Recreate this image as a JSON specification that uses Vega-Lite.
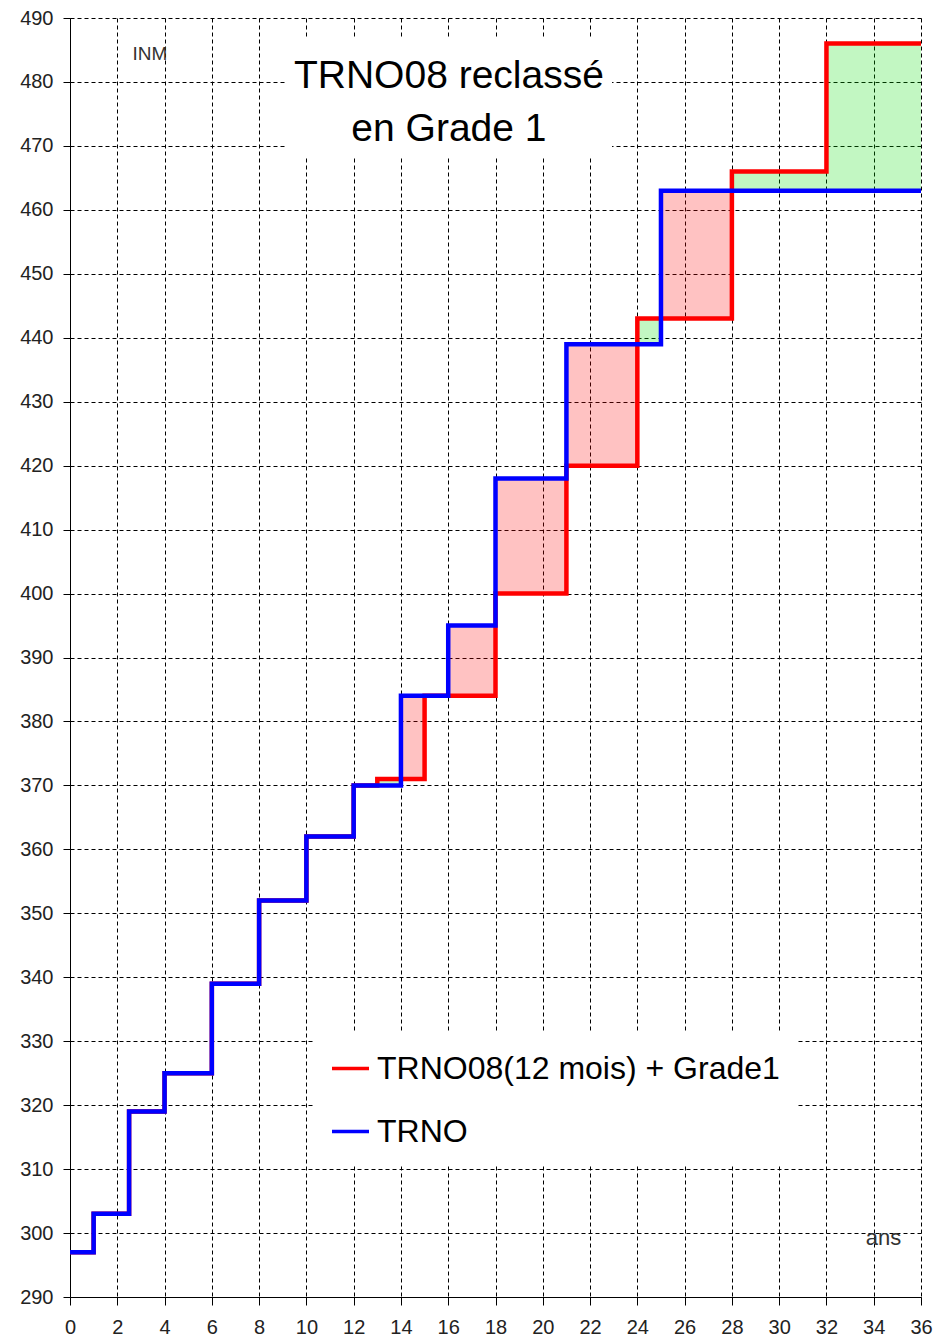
{
  "$schema": "https://vega.github.io/schema/vega-lite/v6.json",
  "width": 851,
  "height": 1279,
  "autosize": {"type": "none"},
  "padding": {"left": 70, "top": 18, "right": 14, "bottom": 41},
  "background": "white",
  "config": {
    "view": {"stroke": null},
    "axis": {
      "domainColor": "black",
      "domainWidth": 1,
      "tickColor": "black",
      "tickWidth": 1,
      "gridColor": "black",
      "gridDash": [4, 3],
      "gridOpacity": 1,
      "gridWidth": 1,
      "labelFont": "Liberation Sans",
      "labelFontSize": 20,
      "labelColor": "#222222",
      "title": null
    }
  },
  "datasets": {
    "steps": [
      {"serie": "TRNO", "x": 0, "y": 297},
      {"serie": "TRNO", "x": 1, "y": 303},
      {"serie": "TRNO", "x": 2.5, "y": 319},
      {"serie": "TRNO", "x": 4, "y": 325},
      {"serie": "TRNO", "x": 6, "y": 339},
      {"serie": "TRNO", "x": 8, "y": 352},
      {"serie": "TRNO", "x": 10, "y": 362},
      {"serie": "TRNO", "x": 12, "y": 370},
      {"serie": "TRNO", "x": 14, "y": 384},
      {"serie": "TRNO", "x": 16, "y": 395},
      {"serie": "TRNO", "x": 18, "y": 418},
      {"serie": "TRNO", "x": 21, "y": 439},
      {"serie": "TRNO", "x": 25, "y": 463},
      {"serie": "TRNO", "x": 36, "y": 463},
      {"serie": "TRNO08(12 mois) + Grade1", "x": 0, "y": 297},
      {"serie": "TRNO08(12 mois) + Grade1", "x": 1, "y": 303},
      {"serie": "TRNO08(12 mois) + Grade1", "x": 2.5, "y": 319},
      {"serie": "TRNO08(12 mois) + Grade1", "x": 4, "y": 325},
      {"serie": "TRNO08(12 mois) + Grade1", "x": 6, "y": 339},
      {"serie": "TRNO08(12 mois) + Grade1", "x": 8, "y": 352},
      {"serie": "TRNO08(12 mois) + Grade1", "x": 10, "y": 362},
      {"serie": "TRNO08(12 mois) + Grade1", "x": 12, "y": 370},
      {"serie": "TRNO08(12 mois) + Grade1", "x": 13, "y": 371},
      {"serie": "TRNO08(12 mois) + Grade1", "x": 15, "y": 384},
      {"serie": "TRNO08(12 mois) + Grade1", "x": 18, "y": 400},
      {"serie": "TRNO08(12 mois) + Grade1", "x": 21, "y": 420},
      {"serie": "TRNO08(12 mois) + Grade1", "x": 24, "y": 443},
      {"serie": "TRNO08(12 mois) + Grade1", "x": 28, "y": 466},
      {"serie": "TRNO08(12 mois) + Grade1", "x": 32, "y": 486},
      {"serie": "TRNO08(12 mois) + Grade1", "x": 36, "y": 486}
    ],
    "zones": [
      {"kind": "perte", "x": 14, "x2": 15, "y": 371, "y2": 384},
      {"kind": "perte", "x": 16, "x2": 18, "y": 384, "y2": 395},
      {"kind": "perte", "x": 18, "x2": 21, "y": 400, "y2": 418},
      {"kind": "perte", "x": 21, "x2": 24, "y": 420, "y2": 439},
      {"kind": "perte", "x": 25, "x2": 28, "y": 443, "y2": 463},
      {"kind": "gain", "x": 13, "x2": 14, "y": 370, "y2": 371},
      {"kind": "gain", "x": 24, "x2": 25, "y": 439, "y2": 443},
      {"kind": "gain", "x": 28, "x2": 32, "y": 463, "y2": 466},
      {"kind": "gain", "x": 32, "x2": 36, "y": 463, "y2": 486}
    ],
    "boxes": [
      {"x": 9.18, "x2": 22.93, "y": 468.1, "y2": 486.9}
    ],
    "labels": [
      {"role": "title", "x": 16.03, "y": 479.05, "text": "TRNO08 reclassé"},
      {"role": "title", "x": 16.03, "y": 470.77, "text": "en Grade 1"},
      {"role": "unit", "x": 3.38, "y": 483.43, "text": "INM"},
      {"role": "xunit", "x": 34.41, "y": 298.13, "text": "ans"}
    ]
  },
  "encoding": {
    "x": {
      "field": "x",
      "type": "quantitative",
      "scale": {"domain": [0, 36], "nice": false, "zero": false},
      "axis": {
        "values": [0, 2, 4, 6, 8, 10, 12, 14, 16, 18, 20, 22, 24, 26, 28, 30, 32, 34, 36],
        "grid": true,
        "tickSize": 8,
        "labelPadding": 12,
        "labelFlush": false
      }
    },
    "y": {
      "field": "y",
      "type": "quantitative",
      "scale": {"domain": [290, 490], "nice": false, "zero": false},
      "axis": {
        "values": [290, 300, 310, 320, 330, 340, 350, 360, 370, 380, 390, 400, 410, 420, 430, 440, 450, 460, 470, 480, 490],
        "grid": true,
        "tickSize": 7,
        "labelPadding": 10,
        "labelFlush": false
      }
    }
  },
  "layer": [
    {
      "data": {"name": "zones"},
      "mark": {"type": "rect", "fillOpacity": 0.24, "strokeWidth": 0},
      "encoding": {
        "x2": {"field": "x2"},
        "y2": {"field": "y2"},
        "fill": {
          "field": "kind",
          "type": "nominal",
          "scale": {"domain": ["perte", "gain"], "range": ["#ff0000", "#00dd00"]},
          "legend": null
        }
      }
    },
    {
      "data": {"name": "boxes"},
      "mark": {"type": "rect", "fill": "white", "strokeWidth": 0},
      "encoding": {
        "x2": {"field": "x2"},
        "y2": {"field": "y2"}
      }
    },
    {
      "data": {"name": "steps"},
      "transform": [{"filter": "datum.serie !== 'TRNO'"}],
      "mark": {"type": "line", "interpolate": "step-after", "strokeWidth": 4.5, "strokeJoin": "miter"},
      "encoding": {
        "color": {
          "field": "serie",
          "type": "nominal",
          "scale": {"domain": ["TRNO08(12 mois) + Grade1", "TRNO"], "range": ["#ff0000", "#0000ff"]},
          "legend": {
            "orient": "none",
            "legendX": 244,
            "legendY": 1014,
            "title": null,
            "symbolType": "stroke",
            "symbolSize": 1369,
            "symbolStrokeWidth": 3.5,
            "labelFont": "Liberation Sans",
            "labelFontSize": 32,
            "labelColor": "black",
            "labelOffset": 6,
            "labelLimit": 0,
            "rowPadding": 26,
            "padding": 16,
            "fillColor": "white"
          }
        }
      }
    },
    {
      "data": {"name": "steps"},
      "transform": [{"filter": "datum.serie === 'TRNO'"}],
      "mark": {"type": "line", "interpolate": "step-after", "strokeWidth": 4.5, "strokeJoin": "miter"},
      "encoding": {
        "color": {"field": "serie", "type": "nominal"}
      }
    },
    {
      "data": {"name": "labels"},
      "transform": [{"filter": "datum.role === 'title'"}],
      "mark": {"type": "text", "font": "Liberation Sans", "fontSize": 39, "color": "black", "align": "center", "baseline": "alphabetic"},
      "encoding": {"text": {"field": "text"}}
    },
    {
      "data": {"name": "labels"},
      "transform": [{"filter": "datum.role === 'unit'"}],
      "mark": {"type": "text", "font": "Liberation Sans", "fontSize": 19, "color": "#333333", "align": "center", "baseline": "alphabetic"},
      "encoding": {"text": {"field": "text"}}
    },
    {
      "data": {"name": "labels"},
      "transform": [{"filter": "datum.role === 'xunit'"}],
      "mark": {"type": "text", "font": "Liberation Sans", "fontSize": 22, "color": "#333333", "align": "center", "baseline": "alphabetic"},
      "encoding": {"text": {"field": "text"}}
    }
  ]
}
